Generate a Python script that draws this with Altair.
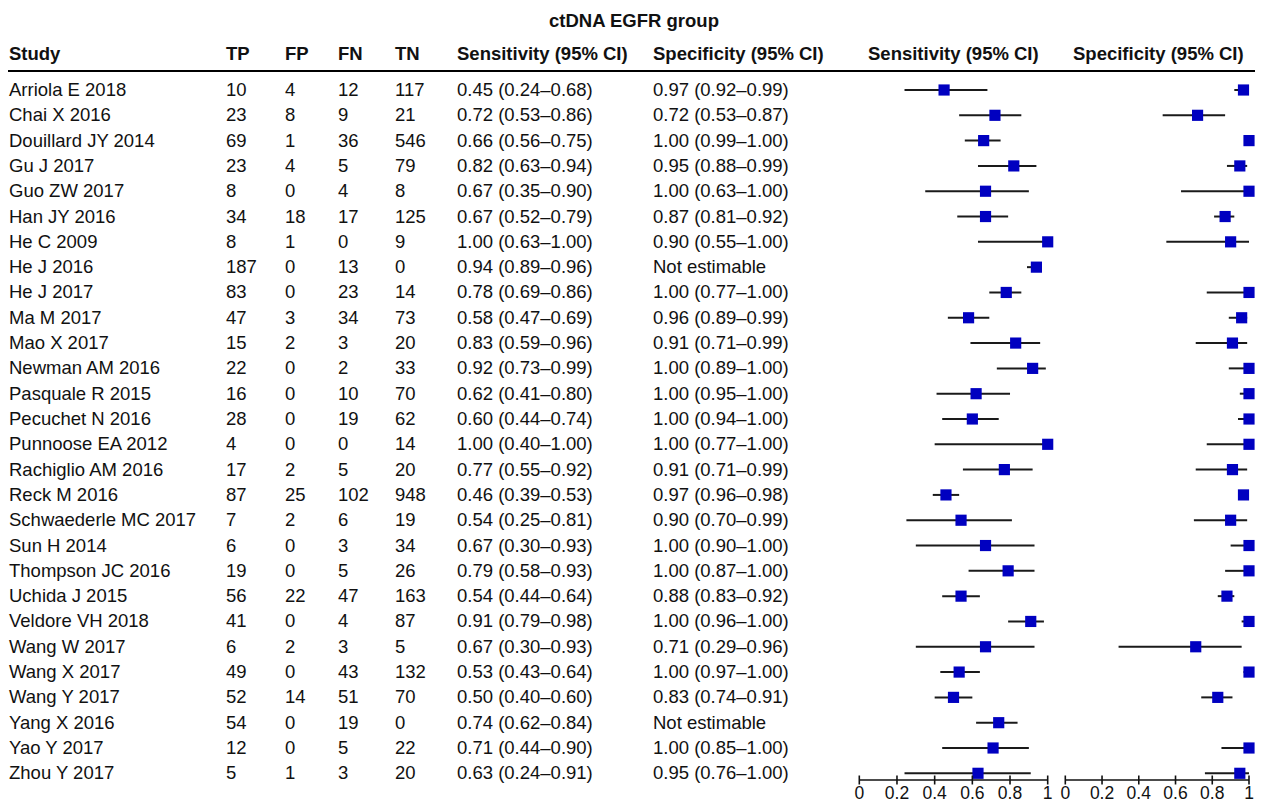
import altair as alt
import pandas as pd

# ---------------- data ----------------
title_text = "ctDNA EGFR group"
headers = ["Study", "TP", "FP", "FN", "TN",
           "Sensitivity (95% CI)", "Specificity (95% CI)",
           "Sensitivity (95% CI)", "Specificity (95% CI)"]

studies = ["Arriola E 2018", "Chai X 2016", "Douillard JY 2014", "Gu J 2017",
           "Guo ZW 2017", "Han JY 2016", "He C 2009", "He J 2016", "He J 2017",
           "Ma M 2017", "Mao X 2017", "Newman AM 2016", "Pasquale R 2015",
           "Pecuchet N 2016", "Punnoose EA 2012", "Rachiglio AM 2016",
           "Reck M 2016", "Schwaederle MC 2017", "Sun H 2014",
           "Thompson JC 2016", "Uchida J 2015", "Veldore VH 2018",
           "Wang W 2017", "Wang X 2017", "Wang Y 2017", "Yang X 2016",
           "Yao Y 2017", "Zhou Y 2017"]
tp = [10, 23, 69, 23, 8, 34, 8, 187, 83, 47, 15, 22, 16, 28, 4, 17, 87, 7, 6,
      19, 56, 41, 6, 49, 52, 54, 12, 5]
fp = [4, 8, 1, 4, 0, 18, 1, 0, 0, 3, 2, 0, 0, 0, 0, 2, 25, 2, 0, 0, 22, 0, 2,
      0, 14, 0, 0, 1]
fn = [12, 9, 36, 5, 4, 17, 0, 13, 23, 34, 3, 2, 10, 19, 0, 5, 102, 6, 3, 5,
      47, 4, 3, 43, 51, 19, 5, 3]
tn = [117, 21, 546, 79, 8, 125, 9, 0, 14, 73, 20, 33, 70, 62, 14, 20, 948, 19,
      34, 26, 163, 87, 5, 132, 70, 0, 22, 20]
sens = [0.45, 0.72, 0.66, 0.82, 0.67, 0.67, 1.00, 0.94, 0.78, 0.58, 0.83, 0.92,
        0.62, 0.60, 1.00, 0.77, 0.46, 0.54, 0.67, 0.79, 0.54, 0.91, 0.67, 0.53,
        0.50, 0.74, 0.71, 0.63]
sens_lo = [0.24, 0.53, 0.56, 0.63, 0.35, 0.52, 0.63, 0.89, 0.69, 0.47, 0.59,
           0.73, 0.41, 0.44, 0.40, 0.55, 0.39, 0.25, 0.30, 0.58, 0.44, 0.79,
           0.30, 0.43, 0.40, 0.62, 0.44, 0.24]
sens_hi = [0.68, 0.86, 0.75, 0.94, 0.90, 0.79, 1.00, 0.96, 0.86, 0.69, 0.96,
           0.99, 0.80, 0.74, 1.00, 0.92, 0.53, 0.81, 0.93, 0.93, 0.64, 0.98,
           0.93, 0.64, 0.60, 0.84, 0.90, 0.91]
spec = [0.97, 0.72, 1.00, 0.95, 1.00, 0.87, 0.90, None, 1.00, 0.96, 0.91, 1.00,
        1.00, 1.00, 1.00, 0.91, 0.97, 0.90, 1.00, 1.00, 0.88, 1.00, 0.71, 1.00,
        0.83, None, 1.00, 0.95]
spec_lo = [0.92, 0.53, 0.99, 0.88, 0.63, 0.81, 0.55, None, 0.77, 0.89, 0.71,
           0.89, 0.95, 0.94, 0.77, 0.71, 0.96, 0.70, 0.90, 0.87, 0.83, 0.96,
           0.29, 0.97, 0.74, None, 0.85, 0.76]
spec_hi = [0.99, 0.87, 1.00, 0.99, 1.00, 0.92, 1.00, None, 1.00, 0.99, 0.99,
           1.00, 1.00, 1.00, 1.00, 0.99, 0.98, 0.99, 1.00, 1.00, 0.92, 1.00,
           0.96, 1.00, 0.91, None, 1.00, 1.00]
axis_ticks = [0, 0.2, 0.4, 0.6, 0.8, 1]
tick_labels = ["0", "0.2", "0.4", "0.6", "0.8", "1"]
not_est = "Not estimable"


def ci_text(v, lo, hi):
    if v is None:
        return not_est
    return f"{v:.2f} ({lo:.2f}\u2013{hi:.2f})"


df = pd.DataFrame({
    "row": list(range(len(studies))),
    "study": studies,
    "tp": [str(v) for v in tp], "fp": [str(v) for v in fp],
    "fn": [str(v) for v in fn], "tn": [str(v) for v in tn],
    "sens": sens, "sens_lo": sens_lo, "sens_hi": sens_hi,
    "spec": spec, "spec_lo": spec_lo, "spec_hi": spec_hi,
    "sens_txt": [ci_text(a, b, c) for a, b, c in zip(sens, sens_lo, sens_hi)],
    "spec_txt": [ci_text(a, b, c) for a, b, c in zip(spec, spec_lo, spec_hi)],
})
ticks_df = pd.DataFrame({"t": axis_ticks, "lab": tick_labels})
span_df = pd.DataFrame({"a": [0], "b": [1]})

# ---------------- styling ----------------
FONT = "Liberation Sans"
FS = 18.5
TXT = "#111111"
W, H = 1247, 796

yscale = alt.Scale(domain=[0, 27], range=[82, 765.3], nice=False, zero=False)
Y = alt.Y("row:Q", scale=yscale, axis=None)

layers = []

# title
layers.append(
    alt.Chart(pd.DataFrame({"label": [title_text]})).mark_text(
        font=FONT, fontSize=FS, fontWeight="bold", color=TXT,
        align="center", baseline="middle"
    ).encode(x=alt.value(626), y=alt.value(13.4), text="label:N")
)

# header line
layers.append(
    alt.Chart(span_df).mark_rule(color="#000000", strokeWidth=2).encode(
        x=alt.value(0), x2=alt.value(1247), y=alt.value(63)
    )
)

col_x = [1, 218, 277, 330, 387, 449, 645, 860, 1065]
fields = ["study", "tp", "fp", "fn", "tn", "sens_txt", "spec_txt", None, None]

for hdr, xx, fld in zip(headers, col_x, fields):
    layers.append(
        alt.Chart(pd.DataFrame({"label": [hdr]})).mark_text(
            font=FONT, fontSize=FS, fontWeight="bold", color=TXT,
            align="left", baseline="middle"
        ).encode(x=alt.value(xx), y=alt.value(46), text="label:N")
    )
    if fld is not None:
        layers.append(
            alt.Chart(df).mark_text(
                font=FONT, fontSize=FS, color=TXT,
                align="left", baseline="middle"
            ).encode(x=alt.value(xx), y=Y, text=f"{fld}:N")
        )


def forest(est, lo, hi, rng):
    xs = alt.Scale(domain=[0, 1], range=rng, nice=False, zero=False)
    base = alt.Chart(df).transform_filter(f"isValid(datum.{est})")
    ci = base.mark_rule(color="#1a1a1a", strokeWidth=2).encode(
        x=alt.X(f"{lo}:Q", scale=xs, axis=None), x2=f"{hi}:Q", y=Y)
    sq = base.mark_square(size=125, color="#0000C0", opacity=1).encode(
        x=alt.X(f"{est}:Q", scale=xs, axis=None), y=Y)
    ax = alt.Chart(span_df).mark_rule(color="#111111", strokeWidth=1.6).encode(
        x=alt.X("a:Q", scale=xs, axis=None), x2="b:Q", y=alt.value(772))
    tk = alt.Chart(ticks_df).mark_rule(color="#111111", strokeWidth=1.6).encode(
        x=alt.X("t:Q", scale=xs, axis=None),
        y=alt.value(767.5), y2=alt.value(776.5))
    tl = alt.Chart(ticks_df).mark_text(
        font=FONT, fontSize=17.5, color=TXT, align="center", baseline="middle"
    ).encode(x=alt.X("t:Q", scale=xs, axis=None), y=alt.value(786),
             text="lab:N")
    return [ci, sq, ax, tk, tl]


layers += forest("sens", "sens_lo", "sens_hi", [851.3, 1039.7])
layers += forest("spec", "spec_lo", "spec_hi", [1057.3, 1241.0])

chart = alt.layer(*layers).resolve_scale(x="independent").properties(
    width=W, height=H, padding=0,
    autosize=alt.AutoSizeParams(type="none")
).configure_view(stroke=None)

chart.save("out.html", embed_options={"renderer": "svg", "actions": False})
